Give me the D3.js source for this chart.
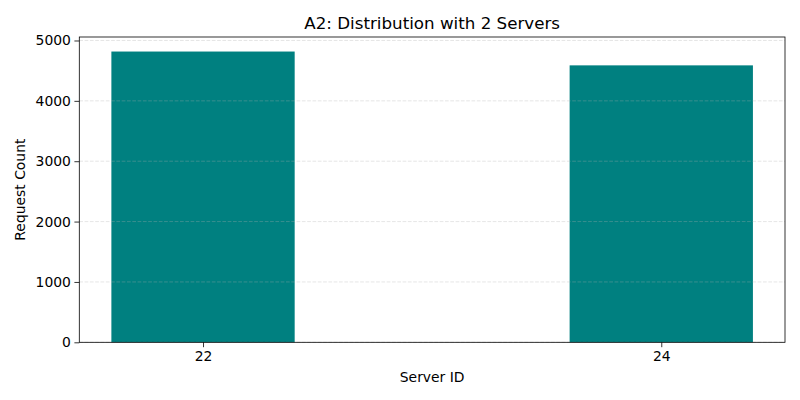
<!DOCTYPE html>
<html><head><meta charset="utf-8">
<script src="https://cdn.jsdelivr.net/npm/d3@7"></script>
<style>body{margin:0;background:#fff;font-family:"DejaVu Sans",sans-serif;}</style>
</head><body><svg id="c" width="800" height="400"></svg>
<script>
const servers = [22, 24];
const counts = [4817, 4588];
const yTicks = [0, 1000, 2000, 3000, 4000, 5000];
const title = "A2: Distribution with 2 Servers";
const xLabel = "Server ID";
const yLabel = "Request Count";

const svg = d3.select("#c");
const m = {l:79.3, r:785, t:37, b:342.3};
const barW = 0.8;
const lo = d3.min(servers) - barW/2, hi = d3.max(servers) + barW/2;
const pad = (hi - lo) * 0.05;
const x = d3.scaleLinear().domain([lo - pad, hi + pad]).range([m.l, m.r]);
const y = d3.scaleLinear().domain([0, d3.max(counts) * 1.05]).range([m.b, m.t]);

svg.append("g").selectAll("rect").data(servers).join("rect")
  .attr("x", d => x(d - barW/2)).attr("width", d => x(d + barW/2) - x(d - barW/2))
  .attr("y", (d,i) => y(counts[i])).attr("height", (d,i) => y(0) - y(counts[i]))
  .attr("fill", "#008080");

svg.append("g").selectAll("line").data(yTicks).join("line")
  .attr("x1", m.l).attr("x2", m.r).attr("y1", d => y(d)).attr("y2", d => y(d))
  .attr("stroke", "#b0b0b0").attr("stroke-opacity", 0.4).attr("stroke-width", 0.8)
  .attr("stroke-dasharray", "3.7,1.6");

const fs = "13.9px";
const xa = svg.append("g").attr("transform", `translate(0,${m.b})`)
  .call(d3.axisBottom(x).tickValues(servers).tickFormat(d3.format("d")).tickSizeOuter(0).tickSize(4.9).tickPadding(3.5));
const ya = svg.append("g").attr("transform", `translate(${m.l},0)`)
  .call(d3.axisLeft(y).tickValues(yTicks).tickFormat(d3.format("d")).tickSizeOuter(0).tickSize(4.9).tickPadding(3.5));
[xa, ya].forEach(a => {
  a.select(".domain").remove();
  a.selectAll("text").attr("font-size", fs).attr("font-family", "DejaVu Sans").attr("fill", "#000");
  a.selectAll("line").attr("stroke", "#000").attr("stroke-width", 0.8);
});

svg.append("rect").attr("x", m.l).attr("y", m.t).attr("width", m.r - m.l).attr("height", m.b - m.t)
  .attr("fill", "none").attr("stroke", "#000").attr("stroke-width", 0.8);

svg.append("text").attr("x", (m.l + m.r)/2).attr("y", 29).attr("text-anchor", "middle")
  .attr("font-size", "16.7px").text(title);
svg.append("text").attr("x", (m.l + m.r)/2).attr("y", 382).attr("text-anchor", "middle")
  .attr("font-size", fs).text(xLabel);
svg.append("text").attr("transform", `translate(25,${(m.t + m.b)/2}) rotate(-90)`).attr("text-anchor", "middle")
  .attr("font-size", fs).text(yLabel);
</script></body></html>
